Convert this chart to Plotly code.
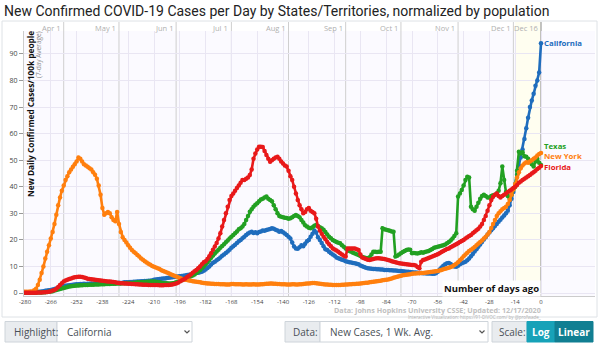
import plotly.graph_objects as go

# ---------------- data (days ago, per 100k, 7-day avg) ----------------
days = list(range(-280, 1))

california = [
    0.2,0.2,0.3,0.3,0.3,0.4,0.4,0.5,0.5,0.6,0.7,0.8,0.9,1.0,
    1.1,1.3,1.5,1.7,1.9,2.1,2.3,2.5,2.7,2.8,2.9,3.0,3.1,3.2,
    3.3,3.3,3.4,3.4,3.5,3.4,3.5,3.5,3.6,3.5,3.6,3.6,3.5,3.6,
    3.6,3.7,3.6,3.7,3.7,3.8,3.7,3.8,3.8,3.9,3.8,3.9,4.0,4.0,
    4.0,4.1,4.1,4.2,4.2,4.3,4.3,4.4,4.4,4.5,4.5,4.6,4.6,4.7,
    5.0,5.1,5.2,5.3,5.4,5.5,5.5,5.6,5.7,5.8,5.9,6.0,6.1,6.2,
    6.3,6.4,6.5,6.6,6.8,6.9,7.0,7.1,7.3,7.5,7.6,7.8,8.0,8.4,
    8.8,9.4,10.0,10.7,11.4,11.8,12.3,12.8,13.4,14.0,14.5,15.1,15.6,16.3,
    17.0,17.6,18.2,18.8,19.5,20.0,20.6,21.2,21.8,22.4,22.8,23.1,22.6,22.9,
    22.5,23.0,23.2,23.5,23.4,23.7,23.9,24.1,24.4,24.2,23.8,23.5,23.1,23.3,
    22.9,22.4,21.8,21.2,20.5,19.0,17.5,16.8,16.7,17.2,18.0,17.6,18.5,19.5,
    20.0,21.2,22.3,23.5,22.8,21.0,20.0,18.8,17.6,16.5,16.2,15.5,15.0,14.5,
    14.0,13.4,13.1,12.8,12.5,12.3,12.0,11.8,11.6,11.5,11.3,11.2,11.0,10.8,
    10.4,10.1,9.8,9.5,9.3,9.2,9.1,9.0,9.0,8.9,8.9,8.8,8.8,8.7,
    8.7,8.7,8.6,8.6,8.5,8.5,8.4,8.3,8.3,8.2,8.1,8.0,8.0,7.9,
    7.8,7.7,7.7,7.6,7.5,7.5,7.4,7.4,7.3,7.3,7.3,7.2,7.2,7.4,
    8.0,8.8,9.6,10.3,10.8,11.2,11.3,10.9,10.4,10.0,9.9,10.3,10.8,11.2,
    11.5,11.8,12.3,13.0,13.8,14.7,15.6,16.5,17.4,18.3,19.2,20.1,21.0,22.0,
    22.8,23.6,24.4,25.2,26.0,26.8,27.6,28.4,29.2,30.0,31.0,33.0,35.5,38.0,
    41.0,44.5,48.0,51.0,54.0,58.0,62.0,66.0,70.0,72.5,75.0,78.0,80.0,83.0,
    94.0,
]

new_york = [
    0.5,0.5,0.5,0.6,0.6,1.0,1.6,3.0,5.0,7.5,10.0,13.0,15.5,18.0,
    20.5,23.0,26.0,29.5,33.0,36.0,38.5,40.5,42.5,44.0,45.5,46.5,47.5,48.5,
    49.5,51.0,50.5,49.5,48.5,48.0,47.5,47.0,46.5,45.5,44.5,43.0,40.5,37.0,
    32.0,29.5,30.0,30.5,30.0,28.5,27.5,27.0,30.5,26.0,23.0,21.0,20.0,19.0,
    18.0,17.0,16.2,15.5,15.0,14.3,13.7,13.0,12.5,12.0,11.5,11.0,10.6,10.2,
    9.9,9.6,9.3,9.0,8.6,8.3,8.0,7.7,7.4,7.1,6.8,6.5,6.2,5.9,
    5.6,5.4,5.2,5.0,4.9,4.7,4.6,4.4,4.3,4.2,4.1,4.0,3.9,3.8,
    3.7,3.6,3.6,3.5,3.5,3.4,3.4,3.4,3.3,3.3,3.3,3.2,3.2,3.2,
    3.4,3.4,3.3,3.3,3.3,3.3,3.2,3.2,3.3,3.2,3.2,3.2,3.3,3.2,
    3.2,3.2,3.3,3.3,3.4,3.5,3.5,3.6,3.6,3.5,3.5,3.4,3.4,3.3,
    3.3,3.3,3.2,3.2,3.2,3.3,3.3,3.2,3.2,3.3,3.3,3.4,3.5,3.6,
    3.6,3.7,3.8,3.8,3.7,3.6,3.5,3.4,3.3,3.2,3.2,3.1,3.1,3.0,
    3.0,3.0,3.0,3.0,3.1,3.1,3.2,3.2,3.3,3.3,3.4,3.4,3.5,3.5,
    3.6,3.7,3.8,3.9,3.9,4.0,4.1,4.2,4.3,4.4,4.5,4.6,4.8,4.9,
    5.0,5.1,5.3,5.5,5.7,5.9,6.1,6.3,6.5,6.7,6.8,6.9,7.0,7.1,
    7.2,7.3,7.3,7.4,7.4,7.5,7.5,7.6,7.7,7.8,7.9,8.0,8.1,8.2,
    8.3,8.5,8.7,8.9,9.1,9.3,9.5,9.8,10.1,10.5,11.0,11.6,12.3,13.0,
    13.8,14.5,15.2,15.8,16.3,16.8,17.3,18.0,18.6,19.2,19.8,20.5,21.2,22.0,
    23.0,24.5,26.0,27.5,29.0,30.0,30.8,31.5,32.0,32.5,33.5,35.0,37.0,39.0,
    41.0,43.5,45.5,47.0,48.0,48.8,49.2,49.0,49.5,50.0,50.5,51.0,51.8,52.3,
    52.7,
]

texas = [
    0.1,0.1,0.1,0.1,0.1,0.1,0.1,0.2,0.2,0.2,0.3,0.3,0.4,0.5,
    0.6,0.7,0.9,1.1,1.3,1.5,1.7,1.9,2.1,2.3,2.4,2.5,2.6,2.7,
    2.8,2.8,2.9,2.9,3.0,3.0,3.0,3.1,3.1,3.1,3.2,3.2,3.2,3.3,
    3.3,3.3,3.4,3.4,3.4,3.5,3.5,3.5,3.6,3.6,3.6,3.7,3.7,3.7,
    3.8,3.8,3.8,3.9,3.9,4.0,4.0,4.0,4.1,4.1,4.2,4.2,4.3,4.3,
    4.3,4.2,4.1,4.0,3.9,3.8,3.7,3.7,3.6,3.6,3.7,3.8,4.0,4.2,
    4.5,4.8,5.1,5.4,5.7,6.0,6.3,6.6,7.0,7.5,8.1,8.7,9.3,10.0,
    10.8,11.6,12.4,13.3,14.1,14.9,15.6,16.3,17.0,17.7,18.4,19.1,19.8,20.5,
    21.2,21.8,22.5,23.2,24.0,24.4,25.0,26.0,27.5,29.0,30.6,31.5,32.5,33.2,
    33.8,34.5,35.2,35.5,36.0,36.3,35.5,35.0,34.5,33.0,31.5,30.0,29.0,28.7,
    28.5,28.3,28.2,28.0,28.1,28.5,29.0,29.4,29.0,28.5,27.5,26.5,25.5,25.0,
    24.6,24.4,24.8,25.3,25.6,25.2,24.8,24.4,23.8,23.0,22.0,21.2,20.6,20.0,
    19.6,19.2,18.9,18.7,18.0,17.4,16.8,16.2,15.8,15.5,15.2,14.9,14.6,14.3,
    13.9,13.6,13.4,13.2,13.1,13.5,14.5,15.5,15.5,15.4,15.5,15.5,24.4,24.0,
    23.8,23.6,23.4,23.2,23.1,13.7,14.0,14.5,15.0,15.4,15.8,16.2,16.4,16.3,
    15.0,15.1,15.0,14.9,15.1,15.3,15.2,15.4,15.6,15.8,16.2,16.6,17.0,17.2,
    17.4,17.6,17.8,18.0,18.3,18.7,19.2,19.8,20.5,21.5,22.5,36.3,37.5,38.8,
    40.5,42.5,43.8,43.5,32.5,31.5,31.0,32.5,34.0,35.5,36.5,37.0,36.5,36.0,
    36.0,36.5,36.8,37.0,37.5,38.5,41.3,47.6,42.5,38.0,36.5,35.5,37.0,39.0,
    40.0,46.0,53.2,52.5,53.0,51.5,51.3,50.5,49.4,48.5,47.6,49.5,50.5,49.0,
    48.2,
]

florida = [
    0.1,0.1,0.1,0.1,0.1,0.1,0.1,0.2,0.2,0.2,0.3,0.3,0.4,0.5,
    0.7,0.9,1.1,1.6,2.3,3.0,3.7,4.3,4.7,5.0,5.3,5.5,5.7,5.9,
    6.0,6.1,6.1,6.0,5.8,5.6,5.4,5.3,5.2,5.1,5.0,4.9,4.8,4.7,
    4.6,4.5,4.4,4.3,4.3,4.2,4.1,4.0,3.9,3.8,3.7,3.7,3.6,3.6,
    3.5,3.5,3.4,3.4,3.3,3.3,3.2,3.2,3.1,3.1,3.1,3.0,3.0,3.0,
    3.0,3.0,3.0,2.9,2.9,2.9,3.0,3.0,3.0,3.1,3.2,3.4,3.6,3.9,
    4.3,4.7,5.1,5.5,6.0,6.5,7.0,7.6,8.2,8.7,9.3,10.0,10.8,11.6,
    12.0,12.8,13.8,15.0,16.3,17.5,18.8,20.5,22.5,25.0,27.5,30.0,32.5,35.0,
    36.5,37.5,38.5,39.5,40.5,41.5,42.5,42.5,43.0,43.5,44.4,46.5,50.5,52.5,
    54.0,55.1,55.1,55.0,53.5,52.0,50.5,49.4,50.0,50.5,51.0,51.3,50.5,49.5,
    48.8,48.0,47.6,46.0,44.0,42.5,40.0,37.5,35.0,33.0,31.5,30.0,30.5,31.5,
    32.0,31.0,30.5,30.0,28.0,25.0,23.5,22.3,21.2,20.2,19.2,18.4,17.6,16.8,
    16.4,16.0,15.5,15.0,14.5,14.0,13.7,16.8,16.8,16.8,16.8,16.8,16.5,16.2,
    14.5,13.4,13.1,12.8,12.5,12.4,12.6,12.8,13.0,13.1,13.1,13.0,12.9,12.8,
    12.6,12.4,12.2,12.0,11.8,11.6,11.4,11.2,11.1,11.0,10.9,10.8,10.7,10.6,
    10.5,10.5,10.4,9.8,9.3,11.8,12.4,12.6,12.9,13.2,13.5,13.7,14.0,14.3,
    14.6,15.0,15.4,15.8,16.2,16.6,16.8,17.2,17.6,18.0,18.4,18.7,19.2,19.6,
    20.0,20.5,21.0,21.5,21.8,22.5,23.1,23.6,24.2,25.0,26.0,27.5,29.0,31.0,
    33.0,35.0,36.2,37.0,37.5,36.5,36.0,36.5,37.0,37.5,38.0,38.5,39.0,39.5,
    40.0,40.7,41.5,42.0,42.5,43.0,43.5,44.0,44.4,45.0,45.5,46.0,46.7,47.2,
    47.8,
]

x_ticks = list(range(-280, 1, 14))
y_ticks = list(range(0, 100, 10))
month_names = ["Apr 1", "May 1", "Jun 1", "Jul 1", "Aug 1", "Sep 1", "Oct 1", "Nov 1", "Dec 1", "Dec 16"]
month_days = [-259, -229, -198, -168, -137, -106, -76, -45, -15, 0]
series = [
    ("California", california, "#1f6dbd"),
    ("Texas", texas, "#22a022"),
    ("New York", new_york, "#ff7f0e"),
    ("Florida", florida, "#e8191a"),
]
end_label_y = {"California": 94.0, "Texas": 55.4, "New York": 51.4, "Florida": 47.4}

# ---------------- geometry helpers ----------------
W, H = 600, 344
L, R, T, B = 24, 5, 31, 48
PW, PH = W - L - R, H - T - B


def X(px):
    return (px - L) / PW


def Y(py):
    return (H - B - py) / PH


fig = go.Figure()
for name, vals, col in series:
    fig.add_trace(go.Scatter(
        x=days, y=vals, mode="lines+markers", name=name,
        line=dict(color=col, width=2.6),
        marker=dict(color=col, size=4.5),
        showlegend=False, hoverinfo="skip",
    ))

shapes = []
# card border
shapes.append(dict(type="rect", xref="paper", yref="paper", x0=X(2), x1=X(597), y0=Y(317), y1=Y(21),
                   line=dict(color="#dee2e6", width=1), fillcolor="rgba(0,0,0,0)", layer="below"))
# recent shade
shapes.append(dict(type="rect", xref="x", yref="paper", x0=-14, x1=0, y0=0, y1=Y(22),
                   line=dict(width=0), fillcolor="#fffef0", layer="below"))
# month lines
for md in month_days:
    shapes.append(dict(type="line", xref="x", yref="paper", x0=md, x1=md, y0=0, y1=Y(22),
                       line=dict(color="#9a9a9a" if md == 0 else "#cfcfcf", width=1.2 if md == 0 else 1),
                       layer="below"))

annotations = []
for md, mn in zip(month_days, month_names):
    annotations.append(dict(x=md, xref="x", y=Y(28), yref="paper", text=mn, showarrow=False,
                            xanchor="right", xshift=-1, yanchor="middle",
                            font=dict(family="Open Sans", size=7.5, color="#b0b0b0")))

for name, vals, col in series:
    annotations.append(dict(x=0, xref="x", y=end_label_y[name], yref="y", text="<b>%s</b>" % name,
                            showarrow=False, xanchor="left", xshift=2, yanchor="middle",
                            borderpad=0, font=dict(family="Open Sans", size=7.8, color=col)))

# title
annotations.append(dict(x=X(2), xref="paper", y=Y(11), yref="paper", yanchor="middle", xanchor="left",
                        text="New Confirmed COVID-19 Cases per Day by States/Territories, normalized by population",
                        showarrow=False, font=dict(family="Roboto", size=14, color="#222")))
# y-axis titles
annotations.append(dict(x=X(30), xref="paper", y=Y(29), yref="paper", yanchor="top", xanchor="center",
                        text="<b>New Daily Confirmed Cases/100k people</b>", textangle=-90, showarrow=False,
                        font=dict(family="Open Sans", size=8.3, color="#111")))
annotations.append(dict(x=X(38.5), xref="paper", y=Y(29), yref="paper", yanchor="top", xanchor="center",
                        text="(7-day Average)", textangle=-90, showarrow=False,
                        font=dict(family="Open Sans", size=6.5, color="#888")))
# x title
annotations.append(dict(x=X(541), xref="paper", y=Y(288), yref="paper", yanchor="middle", xanchor="right",
                        text="<b>Number of days ago</b>", showarrow=False, bgcolor="white",
                        font=dict(family="Open Sans", size=9.5, color="#111")))
# footer
annotations.append(dict(x=X(542), xref="paper", y=Y(309.5), yref="paper", yanchor="middle", xanchor="right",
                        text="<b>Data: Johns Hopkins University CSSE; Updated: 12/17/2020</b>", showarrow=False,
                        borderpad=0, font=dict(family="Open Sans", size=7.2, color="#c0c0c0")))
annotations.append(dict(x=X(542), xref="paper", y=Y(316.5), yref="paper", yanchor="middle", xanchor="right",
                        text="Interactive Visualization: https://91-DIVOC.com/ by @profwade_", showarrow=False,
                        borderpad=0, font=dict(family="Open Sans", size=4.5, color="#b0b0b0")))

# ---------------- controls ----------------
def box(x0, x1, fill, line="#ced4da"):
    shapes.append(dict(type="rect", xref="paper", yref="paper", x0=X(x0), x1=X(x1), y0=Y(342), y1=Y(321.5),
                       line=dict(color=line, width=1), fillcolor=fill))


def label(xp, text, color="#495057", anchor="left", bold=False, size=10):
    annotations.append(dict(x=X(xp), xref="paper", y=Y(332), yref="paper", yanchor="middle", xanchor=anchor,
                            text=("<b>%s</b>" % text) if bold else text, showarrow=False,
                            font=dict(family="Open Sans", size=size, color=color)))


def chevron(xc):
    x0, x1, x2 = X(xc - 2.5), X(xc), X(xc + 2.5)
    y0, y1 = Y(330.5), Y(333)
    shapes.append(dict(type="path", xref="paper", yref="paper",
                       path="M %f %f L %f %f L %f %f" % (x0, y0, x1, y1, x2, y0),
                       line=dict(color="#555", width=1.2)))


box(5, 57, "#e9ecef")
box(57, 192, "white")
label(12, "Highlight:")
label(65, "California")
chevron(187)

box(285, 320, "#e9ecef")
box(320, 488, "white")
label(291, "Data:")
label(328, "New Cases, 1 Wk. Avg.")
chevron(482)

box(492, 527, "#e9ecef")
box(527, 555, "#17a2b8", line="#17a2b8")
box(555, 593, "#117f92", line="#117f92")
label(497, "Scale:")
label(541, "Log", color="white", anchor="center", bold=True)
label(574, "Linear", color="white", anchor="center", bold=True)

fig.update_layout(
    width=W, height=H,
    margin=dict(l=L, r=R, t=T, b=B, pad=0),
    paper_bgcolor="white",
    plot_bgcolor="#fbfaff",
    shapes=shapes,
    annotations=annotations,
    xaxis=dict(range=[-280.54, 29.3], tickvals=x_ticks, ticktext=[str(v) for v in x_ticks],
               showgrid=True, gridcolor="#e9e6f3", gridwidth=1, zeroline=False,
               showline=True, linecolor="#cccccc", ticks="",
               tickfont=dict(family="Open Sans", size=6, color="#444"), fixedrange=True),
    yaxis=dict(range=[-1.13, 98.64], tickvals=y_ticks, ticktext=[str(v) for v in y_ticks],
               showgrid=True, gridcolor="#e9e6f3", gridwidth=1, zeroline=False,
               showline=True, linecolor="#cccccc", ticks="outside", ticklen=4, tickcolor="#999",
               tickfont=dict(family="Open Sans", size=7, color="#444"), fixedrange=True),
)

fig.write_html("out.html")
